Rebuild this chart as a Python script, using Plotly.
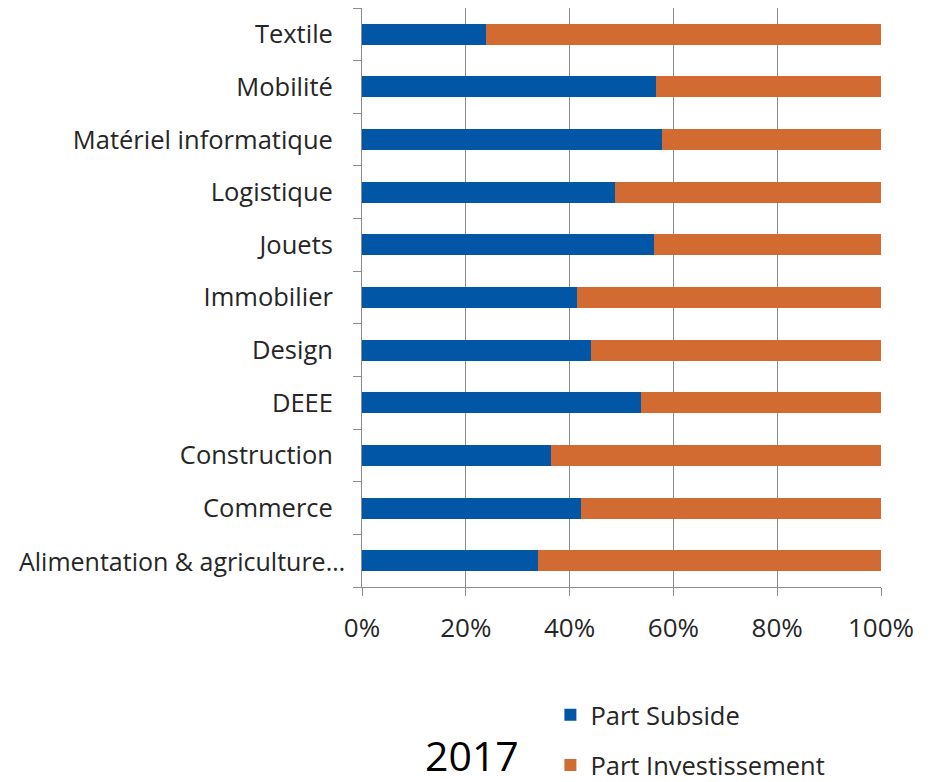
import plotly.graph_objects as go

categories = ["Textile", "Mobilité", "Matériel informatique", "Logistique", "Jouets",
              "Immobilier", "Design", "DEEE", "Construction", "Commerce",
              "Alimentation & agriculture…"]
part_subside = [23.8, 56.7, 57.8, 48.7, 56.3, 41.4, 44.2, 53.7, 36.5, 42.2, 34.0]
part_invest = [100 - v for v in part_subside]
tick_vals = [0, 20, 40, 60, 80, 100]
tick_text = ["0%", "20%", "40%", "60%", "80%", "100%"]

BLUE = "#0156A6"
ORANGE = "#D16B31"
FONT = "Open Sans"
TXT = "#262626"

# all category labels shown as axis tick labels except the long one, which in the
# reference sits further right (closer to the axis) than the others
y_ticktext = categories[:-1] + [""]

fig = go.Figure()
fig.add_trace(go.Bar(y=categories, x=part_subside, orientation="h", name="Part Subside",
                     marker=dict(color=BLUE, line=dict(width=0)), legendgroup="a"))
fig.add_trace(go.Bar(y=categories, x=part_invest, orientation="h", name="Part Investissement",
                     marker=dict(color=ORANGE, line=dict(width=0)), legendgroup="b"))

fig.update_layout(
    width=932, height=782,
    barmode="stack", bargap=0.6,
    plot_bgcolor="white", paper_bgcolor="white",
    margin=dict(l=354, r=59, t=0, b=203, autoexpand=False),
    font=dict(family=FONT, size=25.5, color=TXT),
    legend=dict(x=0.363, y=-0.181, xanchor="left", yanchor="top",
                traceorder="grouped", tracegroupgap=14,
                font=dict(size=25.5, color=TXT), itemwidth=30),
    annotations=[
        dict(text="2017", x=0.212, y=-0.29, xref="paper", yref="paper",
             showarrow=False, font=dict(size=41, color="black", family=FONT),
             xanchor="center", yanchor="middle"),
        dict(text=categories[-1], x=-0.0289, y=categories[-1], xref="paper", yref="y",
             showarrow=False, font=dict(size=25, color=TXT, family=FONT),
             xanchor="right", yanchor="middle"),
    ],
)
fig.update_xaxes(range=[0, 100], tickvals=tick_vals, ticktext=tick_text,
                 showgrid=True, gridcolor="#8C8C8C", gridwidth=1,
                 showline=True, linecolor="#8C8C8C", linewidth=1,
                 ticks="outside", ticklen=8, tickcolor="#8C8C8C",
                 ticklabelstandoff=10, zeroline=False, automargin=False,
                 tickfont=dict(size=26))
fig.update_yaxes(autorange="reversed", showline=True, linecolor="#8C8C8C", linewidth=1,
                 ticks="outside", ticklen=8, tickcolor="#8C8C8C", tickson="boundaries",
                 tickmode="array", tickvals=categories, ticktext=y_ticktext,
                 ticklabelstandoff=23, showgrid=False, automargin=False)

fig.write_html("out.html")
